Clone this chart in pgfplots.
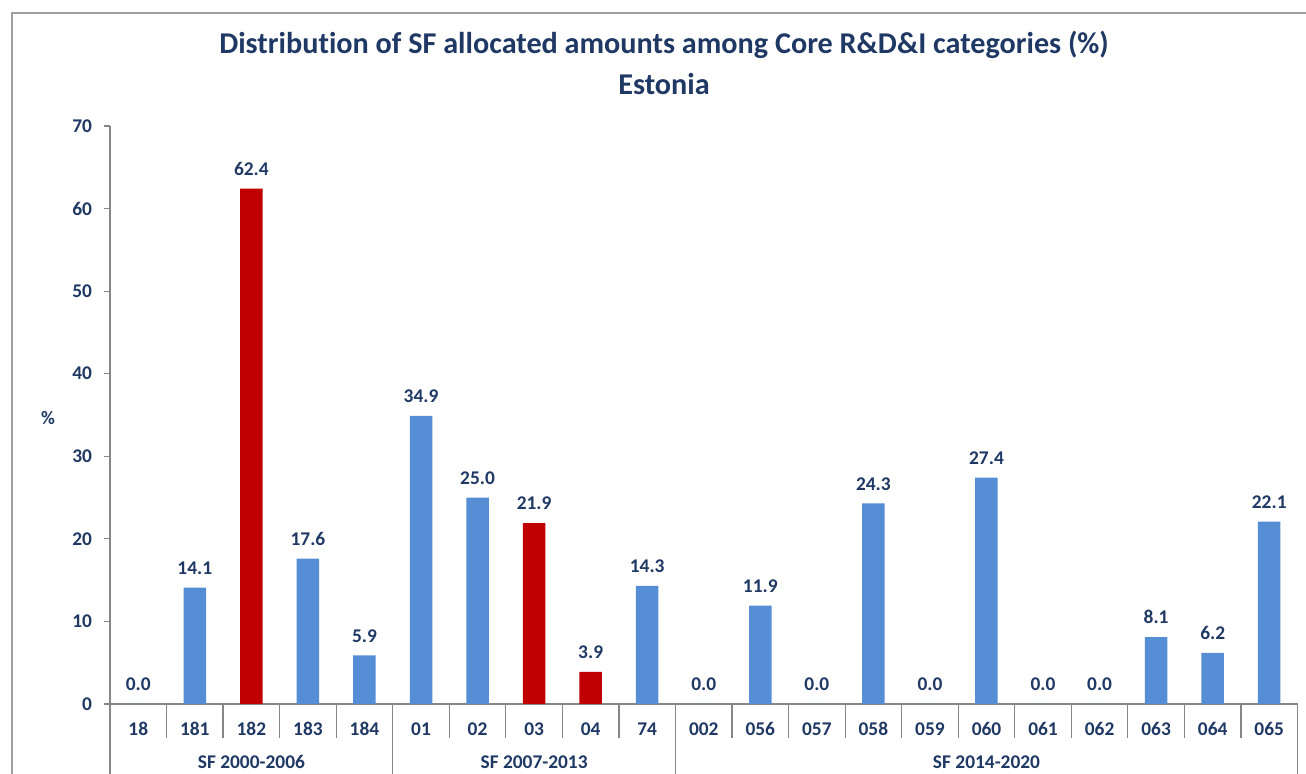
\documentclass[border=0pt]{standalone}
\usepackage{pgfplots}
\pgfplotsset{compat=1.18}
\usepackage{fontspec}
\setmainfont{Carlito}[Ligatures=NoCommon]
\definecolor{navy}{RGB}{31,56,100}
\definecolor{barblue}{RGB}{85,142,213}
\definecolor{barred}{RGB}{192,0,0}
\definecolor{axgray}{RGB}{134,134,134}
\definecolor{bordergray}{RGB}{160,160,160}
\begin{document}
\begin{tikzpicture}
\useasboundingbox (0,0) rectangle (653pt,387pt);
\draw[bordergray, line width=0.8pt] (6pt,0) -- (6pt,380.5pt) -- (653pt,380.5pt);
\node[font=\fontsize{15.1}{17}\selectfont\bfseries, text=navy] at (332pt,364.5pt) {Distribution of SF allocated amounts among Core R\&D\&I categories (\%)};
\node[font=\fontsize{15.1}{17}\selectfont\bfseries, text=navy] at (332pt,345pt) {Estonia};
\node[font=\fontsize{9.5}{11}\selectfont\bfseries, text=navy] at (24pt,178pt) {\%};
\begin{axis}[
  at={(55pt,35pt)}, anchor=south west,
  scale only axis, width=593.75pt, height=289pt,
  xmin=-0.5, xmax=20.5, ymin=0, ymax=70,
  axis lines=left, axis line style={-, axgray, line width=0.6pt},
  ybar, bar width=11.25pt, bar shift=0pt,
  xtick={0,...,20},
  xticklabels={18,181,182,183,184,01,02,03,04,74,002,056,057,058,059,060,061,062,063,064,065},
  major x tick style={draw=none},
  xticklabel style={anchor=center, yshift=-9.5pt, font=\fontsize{9.7}{11}\selectfont\bfseries, text=navy},
  ytick={0,10,...,70},
  tick align=outside, major tick length=3pt,
  major y tick style={axgray, line width=0.6pt},
  yticklabel style={font=\fontsize{9.7}{11}\selectfont\bfseries, text=navy, xshift=-2.5pt},
  /pgf/number format/assume math mode=true,
  nodes near coords={\pgfmathprintnumber[fixed,zerofill,precision=1]{\pgfplotspointmeta}},
  every node near coord/.append style={font=\fontsize{9.7}{11}\selectfont\bfseries, text=navy, yshift=3pt},
  clip=false,
]
\addplot[fill=barblue, draw=none] coordinates {
 (0,0.0) (1,14.1) (3,17.6) (4,5.9) (5,34.9) (6,25.0) (9,14.3)
 (10,0.0) (11,11.9) (12,0.0) (13,24.3) (14,0.0) (15,27.4) (16,0.0)
 (17,0.0) (18,8.1) (19,6.2) (20,22.1)
};
\addplot[fill=barred, draw=none] coordinates {
 (2,62.4) (7,21.9) (8,3.9)
};
\pgfplotsinvokeforeach{0.5,1.5,2.5,3.5,5.5,6.5,7.5,8.5,10.5,11.5,12.5,13.5,14.5,15.5,16.5,17.5,18.5,19.5}{
  \draw[axgray, line width=0.6pt] (axis cs:#1,0) -- ([yshift=-17pt]axis cs:#1,0);
}
\pgfplotsinvokeforeach{-0.5,4.5,9.5,20.5}{
  \draw[axgray, line width=0.6pt] (axis cs:#1,0) -- ([yshift=-35pt]axis cs:#1,0);
}
\node[font=\fontsize{9.7}{11}\selectfont\bfseries, text=navy] at ([yshift=-29pt]axis cs:2,0) {SF 2000-2006};
\node[font=\fontsize{9.7}{11}\selectfont\bfseries, text=navy] at ([yshift=-29pt]axis cs:7,0) {SF 2007-2013};
\node[font=\fontsize{9.7}{11}\selectfont\bfseries, text=navy] at ([yshift=-29pt]axis cs:15,0) {SF 2014-2020};
\end{axis}
\end{tikzpicture}
\end{document}
